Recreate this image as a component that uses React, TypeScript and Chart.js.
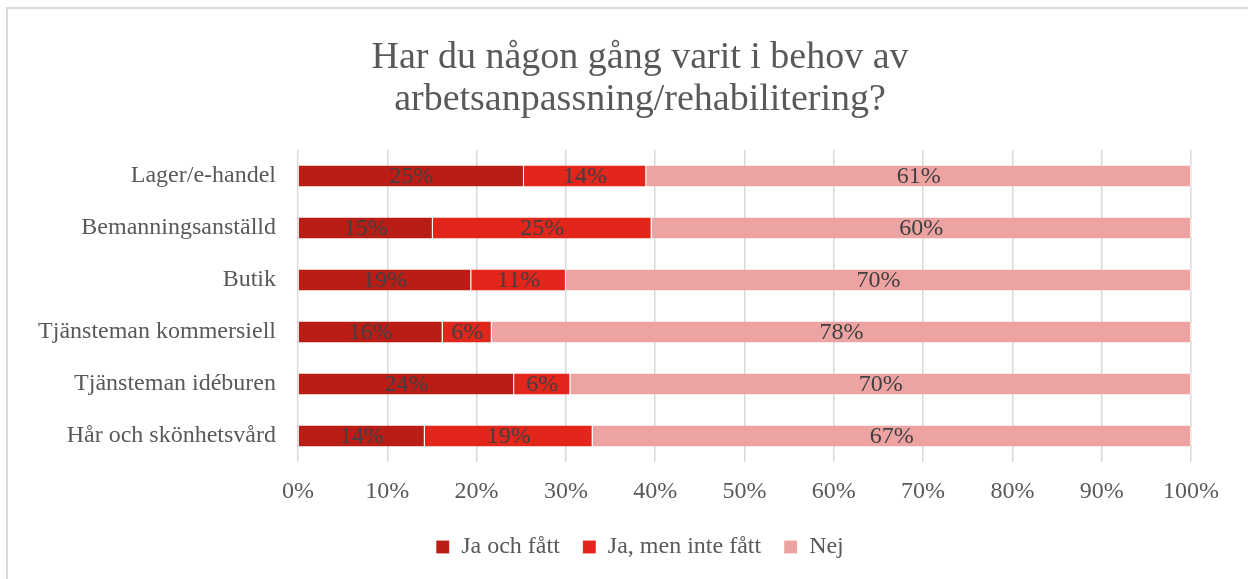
import React, { useEffect, useRef } from "react";
import { Chart, registerables } from "chart.js";

Chart.register(...registerables);

const categories = [
  "Lager/e-handel",
  "Bemanningsanställd",
  "Butik",
  "Tjänsteman kommersiell",
  "Tjänsteman idéburen",
  "Hår och skönhetsvård",
];
const seriesNames = ["Ja och fått", "Ja, men inte fått", "Nej"];
const jaOchFatt = [25.3, 15.1, 19.4, 16.2, 24.2, 14.2];
const jaMenInteFatt = [13.7, 24.5, 10.6, 5.5, 6.3, 18.8];
const nej = [61.0, 60.4, 70.0, 78.3, 69.5, 67.0];
const xTicks = [0, 10, 20, 30, 40, 50, 60, 70, 80, 90, 100];
const titleLines = ["Har du någon gång varit i behov av", "arbetsanpassning/rehabilitering?"];

const colors = ["#B91D16", "#E2261C", "#EEA3A3"];
const FONT = "'Liberation Serif', 'Times New Roman', serif";
const TEXT = "#595959";

export default function App() {
  const ref = useRef<HTMLCanvasElement | null>(null);
  useEffect(() => {
    if (!ref.current) return;
    const borderPlugin = {
      id: "outerBorder",
      beforeDraw(chart: any) {
        const ctx = chart.ctx;
        ctx.save();
        ctx.fillStyle = "#ffffff";
        ctx.fillRect(0, 0, chart.width, chart.height);
        ctx.strokeStyle = "#d9d9d9";
        ctx.lineWidth = 2;
        ctx.strokeRect(7, 8, 1400, 800);
        ctx.restore();
      },
    };
    const labelPlugin = {
      id: "barLabels",
      afterDatasetsDraw(chart: any) {
        const ctx = chart.ctx;
        ctx.save();
        ctx.font = `24px ${FONT}`;
        ctx.fillStyle = "#404040";
        ctx.textAlign = "center";
        ctx.textBaseline = "middle";
        chart.data.datasets.forEach((ds: any, di: number) => {
          const meta = chart.getDatasetMeta(di);
          meta.data.forEach((bar: any, i: number) => {
            const v = ds.data[i];
            const cx = (bar.x + bar.base) / 2;
            ctx.fillText(Math.round(v) + "%", cx, bar.y + 1);
          });
        });
        ctx.restore();
      },
    };
    const series = [jaOchFatt, jaMenInteFatt, nej];
    const chart = new Chart(ref.current, {
      type: "bar",
      data: {
        labels: categories,
        datasets: series.map((d, i) => ({
          label: seriesNames[i],
          data: d,
          backgroundColor: colors[i],
          borderColor: "rgba(255,255,255,0.55)",
          borderWidth: { right: 1 },
          borderSkipped: false,
          barPercentage: 0.4,
          categoryPercentage: 1,
          xAxisID: "x",
          yAxisID: "y",
        })),
      },
      options: {
        indexAxis: "y",
        animation: false,
        responsive: false,
        layout: { padding: { left: 32, right: 0, top: 0, bottom: 10 } },
        plugins: {
          title: {
            display: true,
            text: titleLines,
            color: TEXT,
            font: { family: FONT, size: 38, weight: "normal", lineHeight: 42 / 38 },
            padding: { top: 37, bottom: 29 },
          },
          legend: {
            display: true,
            position: "bottom",
            labels: {
              color: TEXT,
              font: { family: FONT, size: 24 },
              boxWidth: 13,
              boxHeight: 13,
              padding: 23,
            },
          },
          tooltip: { enabled: false },
        },
        scales: {
          x: {
            type: "linear",
            stacked: true,
            min: 0,
            max: 100,
            afterBuildTicks(scale: any) {
              scale.ticks = xTicks.map((v) => ({ value: v }));
            },
            ticks: {
              color: TEXT,
              font: { family: FONT, size: 24 },
              padding: 15,
              callback: (v: any) => v + "%",
            },
            grid: { color: "#d9d9d9", lineWidth: 1.5, drawTicks: false },
            border: { display: false },
            afterFit(scale: any) {
              scale.height = 50;
            },
          },
          y: {
            type: "category",
            stacked: true,
            ticks: { color: TEXT, font: { family: FONT, size: 24 }, padding: 22 },
            grid: { display: false, drawTicks: false },
            border: { display: false },
            afterFit(scale: any) {
              scale.width = 266;
            },
          },
          yR: {
            type: "linear",
            position: "right",
            display: true,
            ticks: { display: false },
            grid: { display: false, drawTicks: false },
            border: { display: false },
            afterFit(scale: any) {
              scale.width = 57;
            },
          },
        },
      } as any,
      plugins: [borderPlugin, labelPlugin],
    });
    return () => chart.destroy();
  }, []);
  return (
    <div style={{ position: "fixed", left: 0, top: 0, width: 1248, height: 579 }}>
      <canvas ref={ref} width={1248} height={579} style={{ display: "block" }} />
    </div>
  );
}
